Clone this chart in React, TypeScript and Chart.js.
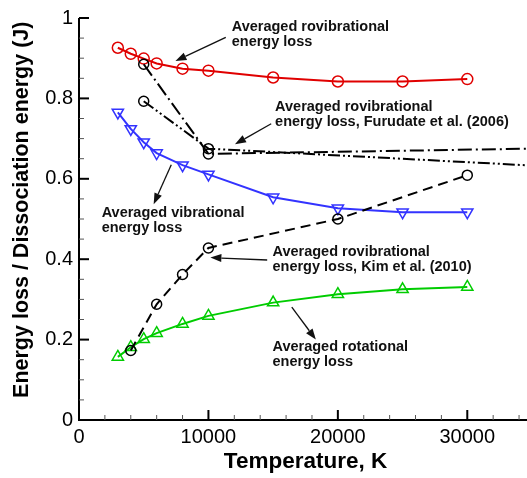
import React, { useEffect, useRef } from 'react';
import { Chart, registerables } from 'chart.js';
Chart.register(...registerables);

// ---- data ----
const temps = [3000, 4000, 5000, 6000, 8000, 10000, 15000, 20000, 25000, 30000];
const rovib = [0.926, 0.911, 0.899, 0.887, 0.874, 0.869, 0.852, 0.842, 0.842, 0.848];
const vib = [0.765, 0.724, 0.691, 0.664, 0.634, 0.611, 0.554, 0.527, 0.517, 0.517];
const rot = [0.157, 0.181, 0.201, 0.216, 0.239, 0.259, 0.292, 0.313, 0.325, 0.331];
const kimTemps = [4000, 6000, 8000, 10000, 20000, 30000];
const kim = [0.173, 0.288, 0.362, 0.428, 0.5, 0.609];
const furuTemps = [5000, 10000, 35000];
const furuA = [0.885, 0.662, 0.675];
const furuB = [0.793, 0.675, 0.633];
const furuMarker = [5, 5, 0];
const xMajor = [0, 10000, 20000, 30000];
const yMajor = [0, 0.2, 0.4, 0.6, 0.8, 1];
const xMinorStep = 2000;
const yMinorStep = 0.05;

const notes = [
  { lines: ['Averaged rovibrational', 'energy loss'], t: 11800, v: 0.978, from: [11340, 0.952], to: [7450, 0.893] },
  { lines: ['Averaged rovibrational', 'energy loss, Furudate et al. (2006)'], t: 15150, v: 0.778, from: [14850, 0.737], to: [12050, 0.686] },
  { lines: ['Averaged vibrational', 'energy loss'], t: 1750, v: 0.514, from: [7130, 0.635], to: [5770, 0.537] },
  { lines: ['Averaged rovibrational', 'energy loss, Kim et al. (2010)'], t: 14950, v: 0.417, from: [14540, 0.398], to: [10150, 0.404] },
  { lines: ['Averaged rotational', 'energy loss'], t: 14950, v: 0.181, from: [16440, 0.281], to: [18300, 0.2] },
];

const FONT = '"Liberation Sans", Arial, sans-serif';
const RED = '#e00000';
const BLUE = '#3333ff';
const GREEN = '#00cc00';

function pts(xs: number[], ys: number[]) {
  return xs.map((x, i) => ({ x, y: ys[i] }));
}

const axesPlugin = {
  id: 'tecplotAxes',
  afterDraw(chart: any) {
    const { ctx, chartArea, scales } = chart;
    const xs = scales.x;
    const ys = scales.y;
    ctx.save();
    ctx.strokeStyle = '#000';
    ctx.lineWidth = 2;
    ctx.beginPath();
    ctx.moveTo(chartArea.left, chartArea.top);
    ctx.lineTo(chartArea.left, chartArea.bottom);
    ctx.lineTo(chartArea.right, chartArea.bottom);
    ctx.stroke();
    for (let t = 0; t <= xs.max + 1; t += xMinorStep) {
      const px = xs.getPixelForValue(t);
      const major = xMajor.includes(t);
      ctx.lineWidth = major ? 2 : 1;
      ctx.strokeStyle = major ? '#000' : '#555';
      ctx.beginPath();
      ctx.moveTo(px, chartArea.bottom);
      ctx.lineTo(px, chartArea.bottom - (major ? 10 : 5));
      ctx.stroke();
    }
    for (let i = 0; i <= Math.round(ys.max / yMinorStep); i++) {
      const v = i * yMinorStep;
      const py = ys.getPixelForValue(v);
      const major = i % 4 === 0;
      ctx.lineWidth = major ? 2 : 1;
      ctx.strokeStyle = major ? '#000' : '#555';
      ctx.beginPath();
      ctx.moveTo(chartArea.left, py);
      ctx.lineTo(chartArea.left + (major ? 10 : 5), py);
      ctx.stroke();
    }
    ctx.fillStyle = '#000';
    ctx.font = `bold 21.5px ${FONT}`;
    ctx.textAlign = 'center';
    ctx.textBaseline = 'middle';
    ctx.translate(22, ys.getPixelForValue(0.523));
    ctx.rotate(-Math.PI / 2);
    ctx.fillText('Energy loss / Dissociation energy (J)', 0, 0);
    ctx.restore();

    ctx.save();
    ctx.fillStyle = '#111';
    ctx.strokeStyle = '#111';
    ctx.font = `bold 14.5px ${FONT}`;
    ctx.textAlign = 'left';
    ctx.textBaseline = 'middle';
    for (const n of notes) {
      const x0 = xs.getPixelForValue(n.t);
      const y0 = ys.getPixelForValue(n.v);
      n.lines.forEach((l, i) => ctx.fillText(l, x0, y0 + i * 15));
      const fx = xs.getPixelForValue(n.from[0]);
      const fy = ys.getPixelForValue(n.from[1]);
      const tx = xs.getPixelForValue(n.to[0]);
      const ty = ys.getPixelForValue(n.to[1]);
      const ang = Math.atan2(ty - fy, tx - fx);
      const hl = 11, hw = 4;
      const bx = tx - hl * Math.cos(ang);
      const by = ty - hl * Math.sin(ang);
      ctx.lineWidth = 1.3;
      ctx.beginPath();
      ctx.moveTo(fx, fy);
      ctx.lineTo(bx, by);
      ctx.stroke();
      ctx.beginPath();
      ctx.moveTo(tx, ty);
      ctx.lineTo(bx + hw * Math.sin(ang), by - hw * Math.cos(ang));
      ctx.lineTo(bx - hw * Math.sin(ang), by + hw * Math.cos(ang));
      ctx.closePath();
      ctx.fill();
    }
    ctx.restore();
  },
};

export default function App() {
  const ref = useRef<HTMLCanvasElement>(null);
  useEffect(() => {
    if (!ref.current) return;
    const common = { borderWidth: 2, pointBackgroundColor: 'rgba(0,0,0,0)', pointBorderWidth: 1.5, tension: 0, fill: false };
    const chart = new Chart(ref.current, {
      type: 'line',
      data: {
        datasets: [
          { ...common, label: 'Kim', data: pts(kimTemps, kim), borderColor: '#000', pointBorderColor: '#000', pointStyle: 'circle', pointRadius: 5, borderDash: [10, 6] },
          { ...common, label: 'FuruA', data: pts(furuTemps, furuA), borderColor: '#000', pointBorderColor: '#000', pointStyle: 'circle', pointRadius: furuMarker, borderDash: [14, 4, 2, 4] },
          { ...common, label: 'FuruB', data: pts(furuTemps, furuB), borderColor: '#000', pointBorderColor: '#000', pointStyle: 'circle', pointRadius: furuMarker, borderDash: [12, 3, 2, 3, 2, 3] },
          { ...common, label: 'rovib', data: pts(temps, rovib), borderColor: RED, pointBorderColor: RED, pointStyle: 'circle', pointRadius: 5.5 },
          { ...common, label: 'vib', data: pts(temps, vib), borderColor: BLUE, pointBorderColor: BLUE, pointStyle: 'triangle', pointRotation: 180, pointRadius: 6.5 },
          { ...common, label: 'rot', data: pts(temps, rot), borderColor: GREEN, pointBorderColor: GREEN, pointStyle: 'triangle', pointRadius: 6.5 },
        ],
      },
      options: {
        animation: false,
        responsive: false,
        events: [],
        layout: { padding: { top: 15, right: 6, left: 0, bottom: 0 } },
        plugins: { legend: { display: false }, tooltip: { enabled: false } },
        scales: {
          x: {
            type: 'linear',
            min: 0,
            max: 35000,
            grid: { display: false, drawTicks: false },
            border: { display: false },
            afterFit: (s: any) => { s.height = 58; },
            afterBuildTicks: (s: any) => { s.ticks = xMajor.map((v) => ({ value: v })); },
            ticks: {
              autoSkip: false,
              maxRotation: 0,
              minRotation: 0,
              padding: 5,
              color: '#000',
              font: { family: FONT, size: 20 },
              callback: (v: any) => String(v),
            },
            title: { display: true, text: 'Temperature, K', color: '#000', font: { family: FONT, size: 22.5, weight: 'bold' }, padding: { top: 0, bottom: 3 } },
          },
          y: {
            min: 0,
            max: 1,
            grid: { display: false, drawTicks: false },
            border: { display: false },
            afterFit: (s: any) => { s.width = 79; },
            afterBuildTicks: (s: any) => { s.ticks = yMajor.map((v) => ({ value: v })); },
            ticks: {
              autoSkip: false,
              padding: 6,
              color: '#000',
              font: { family: FONT, size: 20 },
              callback: (v: any) => String(v),
            },
          },
        },
      },
      plugins: [axesPlugin],
    } as any);
    return () => chart.destroy();
  }, []);
  return (
    <div style={{ position: 'absolute', left: 0, top: 0, width: 527, height: 478, overflow: 'hidden', background: '#fff' }}>
      <canvas ref={ref} width={540} height={478} style={{ width: 540, height: 478, display: 'block' }} />
    </div>
  );
}
